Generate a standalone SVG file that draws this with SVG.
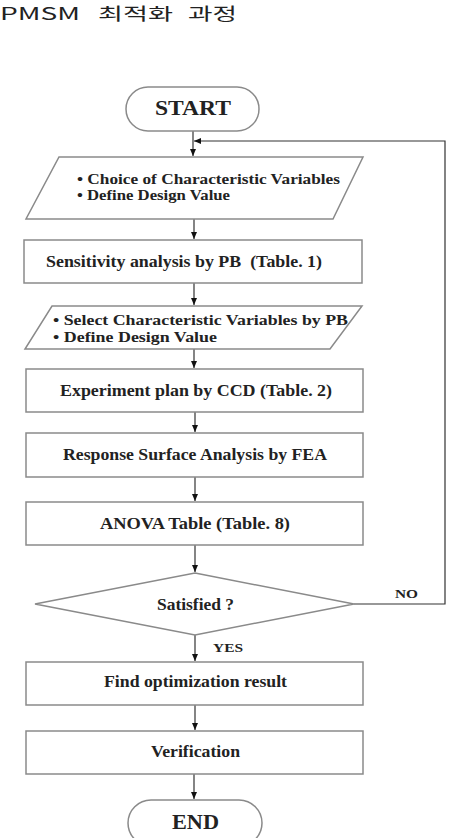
<svg xmlns="http://www.w3.org/2000/svg" width="451" height="838" viewBox="0 0 451 838">
<defs>
<marker id="ah" markerWidth="8" markerHeight="8" refX="7" refY="4" orient="auto" markerUnits="userSpaceOnUse">
<path d="M0,1 L7,4 L0,7 Z" fill="#111"/>
</marker>
<style>
.shape{fill:#fff;stroke:#8a8a8a;stroke-width:1.5}
.t{font-family:"Liberation Serif","Times New Roman",serif;font-weight:bold;fill:#222;font-size:16px}
.ts{font-family:"Liberation Serif","Times New Roman",serif;font-weight:bold;fill:#222;font-size:15px}
.tl{font-family:"Liberation Serif","Times New Roman",serif;font-weight:bold;fill:#222;font-size:12.5px}
.tb{font-family:"Liberation Serif","Times New Roman",serif;font-weight:bold;fill:#222;font-size:21px}
.c{fill:none;stroke:#333;stroke-width:1.2}
.title{font-family:"Noto Sans CJK KR","Noto Sans",sans-serif;font-size:17px;fill:#222}
</style>
</defs>
<rect width="451" height="838" fill="#fff"/>
<g id="title">
<text class="title" x="0" y="20" textLength="80" lengthAdjust="spacingAndGlyphs">PMSM</text>
<text class="title" x="98" y="20" textLength="75" lengthAdjust="spacingAndGlyphs">최적화</text>
<text class="title" x="188" y="20" textLength="49" lengthAdjust="spacingAndGlyphs">과정</text>
</g>
<g id="connectors">
<path class="c" d="M193,131 V156" marker-end="url(#ah)"/>
<path class="c" d="M354,604 H445 V141 H194" marker-end="url(#ah)"/>
<path class="c" d="M194,219 V239" marker-end="url(#ah)"/>
<path class="c" d="M194,283 V305" marker-end="url(#ah)"/>
<path class="c" d="M194,349 V368" marker-end="url(#ah)"/>
<path class="c" d="M195,412 V432" marker-end="url(#ah)"/>
<path class="c" d="M195,477 V501" marker-end="url(#ah)"/>
<path class="c" d="M195,545 V572" marker-end="url(#ah)"/>
<path class="c" d="M195,635 V661" marker-end="url(#ah)"/>
<path class="c" d="M195,705 V730" marker-end="url(#ah)"/>
<path class="c" d="M194,774 V799" marker-end="url(#ah)"/>
<text class="tl" x="395" y="598" textLength="23" lengthAdjust="spacingAndGlyphs">NO</text>
<text class="tl" x="213" y="652" textLength="30" lengthAdjust="spacingAndGlyphs">YES</text>
</g>
<g id="start">
<rect class="shape" x="126" y="87" width="133" height="44" rx="22"/>
<text class="tb" x="155" y="115" textLength="76" lengthAdjust="spacingAndGlyphs">START</text>
</g>
<g id="input1">
<polygon class="shape" points="59,157 363,157 333,219 26,219"/>
<text class="ts" x="77" y="184" textLength="263" lengthAdjust="spacingAndGlyphs">• Choice of Characteristic Variables</text>
<text class="ts" x="77" y="200" textLength="153" lengthAdjust="spacingAndGlyphs">• Define Design Value</text>
</g>
<g id="sensitivity">
<rect class="shape" x="24" y="240" width="338" height="43"/>
<text class="t" x="46" y="267" textLength="276" lengthAdjust="spacingAndGlyphs" xml:space="preserve">Sensitivity analysis by PB  (Table. 1)</text>
</g>
<g id="input2">
<polygon class="shape" points="52,306 362,306 330,349 25,349"/>
<text class="ts" x="53" y="325" textLength="295" lengthAdjust="spacingAndGlyphs">• Select Characteristic Variables by PB</text>
<text class="ts" x="53" y="342" textLength="164" lengthAdjust="spacingAndGlyphs">• Define Design Value</text>
</g>
<g id="ccd">
<rect class="shape" x="26" y="369" width="337" height="43"/>
<text class="t" x="60" y="396" textLength="272" lengthAdjust="spacingAndGlyphs">Experiment plan by CCD (Table. 2)</text>
</g>
<g id="rsa">
<rect class="shape" x="26" y="433" width="337" height="44"/>
<text class="t" x="63" y="460" textLength="264" lengthAdjust="spacingAndGlyphs">Response Surface Analysis by FEA</text>
</g>
<g id="anova">
<rect class="shape" x="26" y="502" width="337" height="43"/>
<text class="t" x="100" y="529" textLength="190" lengthAdjust="spacingAndGlyphs">ANOVA Table (Table. 8)</text>
</g>
<g id="decision">
<polygon class="shape" points="195,573 354,604 195,635 35,604"/>
<text class="t" x="157" y="610" textLength="77" lengthAdjust="spacingAndGlyphs">Satisfied ?</text>
</g>
<g id="result">
<rect class="shape" x="26" y="662" width="337" height="43"/>
<text class="t" x="104" y="687" textLength="183" lengthAdjust="spacingAndGlyphs">Find optimization result</text>
</g>
<g id="verification">
<rect class="shape" x="26" y="731" width="337" height="43"/>
<text class="t" x="151" y="757" textLength="89" lengthAdjust="spacingAndGlyphs">Verification</text>
</g>
<g id="end">
<rect class="shape" x="128" y="800" width="134" height="46" rx="23"/>
<text class="tb" x="172" y="829" textLength="47" lengthAdjust="spacingAndGlyphs">END</text>
</g>
</svg>
